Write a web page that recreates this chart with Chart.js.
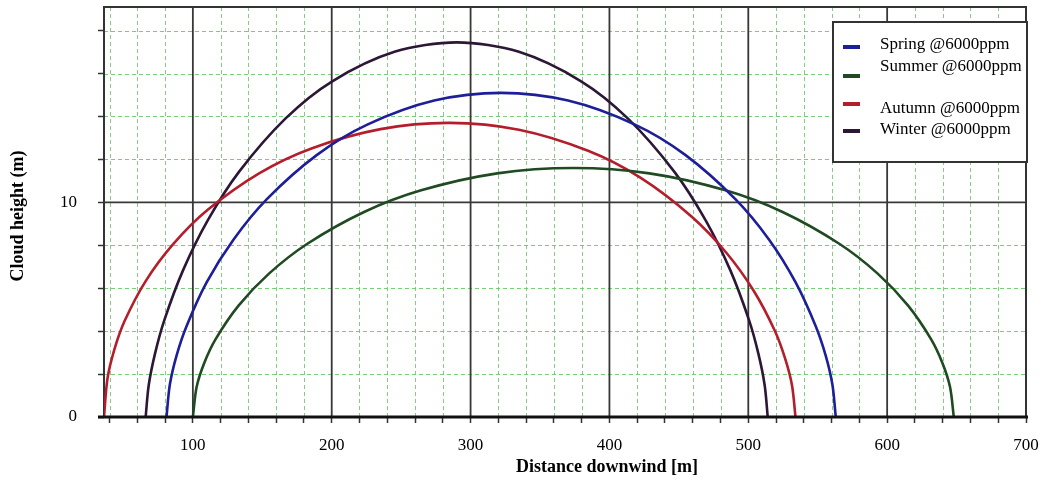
<!DOCTYPE html>
<html>
<head>
<meta charset="utf-8">
<script src="https://cdn.jsdelivr.net/npm/chart.js@4.4.1/dist/chart.umd.min.js"></script>
<style>
  html, body { margin: 0; padding: 0; background: #ffffff; }
  #wrap { width: 1052px; height: 481px; position: relative; }
</style>
</head>
<body>
<div id="wrap"><canvas id="c" width="1052" height="481"></canvas></div>
<script>
// ---- data ----
const seriesNames = ['Spring @6000ppm', 'Summer @6000ppm', 'Autumn @6000ppm', 'Winter @6000ppm'];

const springX = [81, 83.4, 88.2, 95.5, 109.9, 129.2, 153.3, 189.4, 225.6, 273.8, 322, 370.2, 418.4, 454.6, 490.7, 515, 534.1, 548.5, 555.8, 560.6, 563];
const springY = [0, 1.50, 2.85, 4.24, 6.27, 8.26, 10.15, 12.21, 13.62, 14.74, 15.1, 14.74, 13.62, 12.21, 10.15, 8.26, 6.27, 4.24, 2.85, 1.50, 0];

const summerX = [100, 102.7, 108.2, 116.4, 132.9, 154.8, 182.2, 223.3, 264.4, 319.2, 374, 428.8, 483.6, 524.7, 565.8, 593.2, 615.1, 631.6, 639.8, 645.3, 648];
const summerY = [0, 1.40, 2.52, 3.63, 5.19, 6.68, 8.06, 9.55, 10.56, 11.35, 11.6, 11.35, 10.56, 9.55, 8.06, 6.68, 5.19, 3.63, 2.52, 1.40, 0];

const autumnX = [36, 38.5, 43.5, 50.9, 65.9, 85.8, 110.7, 148, 185.4, 235.2, 285, 334.8, 384.6, 422, 459.3, 484.2, 504.1, 519.1, 526.5, 531.5, 534];
const autumnY = [0, 1.79, 3.15, 4.48, 6.32, 8.05, 9.65, 11.36, 12.51, 13.41, 13.7, 13.38, 12.40, 11.16, 9.33, 7.65, 5.86, 4.02, 2.73, 1.47, 0];

const winterX = [66, 68.2, 72.7, 79.4, 92.9, 110.8, 133.2, 166.8, 200.4, 245.2, 290, 334.8, 379.6, 413.2, 446.8, 469.2, 487.1, 500.6, 507.3, 511.8, 514];
const winterY = [0, 1.48, 2.94, 4.50, 6.83, 9.17, 11.42, 13.91, 15.64, 17.01, 17.45, 17.01, 15.64, 13.91, 11.42, 9.17, 6.83, 4.50, 2.94, 1.48, 0];

const xTickLabels = [100, 200, 300, 400, 500, 600, 700];
const yTickLabels = [0, 10];
const xTitle = 'Distance downwind [m]';
const yTitle = 'Cloud height (m)';

// ---- styles ----
const colors = ['#1e1e98', '#1f4a22', '#b41e2c', '#2c1836'];
const serif = '"Liberation Serif", "Times New Roman", serif';

function pts(xs, ys) { return xs.map((v, i) => ({ x: v, y: ys[i] })); }

const datasets = [
  { label: seriesNames[0], data: pts(springX, springY) },
  { label: seriesNames[1], data: pts(summerX, summerY) },
  { label: seriesNames[2], data: pts(autumnX, autumnY) },
  { label: seriesNames[3], data: pts(winterX, winterY) }
].map((d, i) => Object.assign(d, {
  borderColor: colors[i], backgroundColor: colors[i], borderWidth: 2.6,
  pointRadius: 0, tension: 0.3, fill: false
}));

const gridPlugin = {
  id: 'customGrid',
  beforeDatasetsDraw(chart) {
    const { ctx, chartArea: a, scales: { x, y } } = chart;
    ctx.save();
    ctx.setLineDash([4, 3]);
    ctx.lineWidth = 1;
    x.ticks.forEach(t => {
      if (t.value % 100 === 0) return;
      const px = Math.round(x.getPixelForValue(t.value)) + 0.5;
      ctx.strokeStyle = 'rgba(120,190,120,0.85)';
      ctx.beginPath(); ctx.moveTo(px, a.top); ctx.lineTo(px, a.bottom); ctx.stroke();
    });
    y.ticks.forEach(t => {
      if (t.value % 10 === 0) return;
      const py = Math.round(y.getPixelForValue(t.value)) + 0.5;
      ctx.strokeStyle = 'rgba(100,205,100,0.9)';
      ctx.beginPath(); ctx.moveTo(a.left, py); ctx.lineTo(a.right, py); ctx.stroke();
    });
    ctx.setLineDash([]);
    ctx.strokeStyle = '#383838';
    ctx.lineWidth = 1.8;
    x.ticks.forEach(t => {
      if (t.value % 100 !== 0) return;
      const px = x.getPixelForValue(t.value);
      ctx.beginPath(); ctx.moveTo(px, a.top); ctx.lineTo(px, a.bottom); ctx.stroke();
    });
    y.ticks.forEach(t => {
      if (t.value % 10 !== 0 || t.value === 0) return;
      const py = y.getPixelForValue(t.value);
      ctx.beginPath(); ctx.moveTo(a.left, py); ctx.lineTo(a.right, py); ctx.stroke();
    });
    ctx.strokeStyle = '#333333';
    ctx.lineWidth = 2;
    ctx.beginPath();
    ctx.moveTo(a.left, a.bottom); ctx.lineTo(a.left, a.top); ctx.lineTo(a.right, a.top); ctx.lineTo(a.right, a.bottom);
    ctx.stroke();
    ctx.restore();
  },
  afterDatasetsDraw(chart) {
    const { ctx, chartArea: a, scales: { y } } = chart;
    ctx.save();
    ctx.strokeStyle = '#111111';
    ctx.lineWidth = 3;
    const py = y.getPixelForValue(0);
    ctx.beginPath(); ctx.moveTo(a.left - 6, py); ctx.lineTo(a.right + 2, py); ctx.stroke();
    ctx.restore();
  }
};

const textPlugin = {
  id: 'texts',
  afterDraw(chart) {
    const { ctx } = chart;
    ctx.save();
    ctx.fillStyle = '#000';
    ctx.font = 'bold 18px ' + serif;
    ctx.textAlign = 'center';
    ctx.textBaseline = 'middle';
    ctx.fillText(xTitle, 607, 467);
    ctx.translate(18, 216);
    ctx.rotate(-Math.PI / 2);
    ctx.fillText(yTitle, 0, 0);
    ctx.restore();

    ctx.save();
    const bx = 833, by = 22, bw = 194, bh = 140;
    ctx.fillStyle = '#ffffff';
    ctx.fillRect(bx, by, bw, bh);
    ctx.strokeStyle = '#333333';
    ctx.lineWidth = 2;
    ctx.strokeRect(bx, by, bw, bh);
    const swY = [47, 76, 104, 131];
    const txY = [45, 67, 109, 130];
    ctx.font = '17px ' + serif;
    ctx.textAlign = 'left';
    ctx.textBaseline = 'middle';
    chart.data.datasets.forEach((d, i) => {
      ctx.fillStyle = d.borderColor;
      ctx.fillRect(843, swY[i] - 2, 17, 4);
      ctx.fillStyle = '#000';
      ctx.fillText(d.label, 880, txY[i]);
    });
    ctx.restore();
  }
};

new Chart(document.getElementById('c'), {
  type: 'line',
  data: { datasets },
  plugins: [gridPlugin, textPlugin],
  options: {
    responsive: false,
    animation: false,
    layout: { padding: { top: 7, right: 26, left: 0, bottom: 0 } },
    plugins: { legend: { display: false }, tooltip: { enabled: false } },
    scales: {
      x: {
        type: 'linear', min: 36, max: 700,
        afterFit(s) { s.height = 64; s.paddingLeft = 0; s.paddingRight = 0; s.paddingTop = 0; s.paddingBottom = 0; },
        afterBuildTicks(s) {
          const t = [];
          for (let v = 40; v <= 700; v += 20) t.push({ value: v });
          s.ticks = t;
        },
        grid: { drawOnChartArea: false, drawTicks: true, tickLength: 6, tickColor: '#333', tickWidth: 1.5 },
        border: { display: false },
        ticks: {
          autoSkip: false, maxRotation: 0, padding: 12, color: '#000',
          font: { family: serif, size: 17 },
          callback: v => xTickLabels.includes(v) ? String(v) : ''
        }
      },
      y: {
        type: 'linear', min: 0, max: 19.1,
        afterFit(s) { s.width = 104; s.paddingTop = 0; s.paddingBottom = 0; s.paddingLeft = 0; s.paddingRight = 0; },
        afterBuildTicks(s) {
          const t = [];
          for (let v = 0; v <= 18; v += 2) t.push({ value: v });
          s.ticks = t;
        },
        grid: { drawOnChartArea: false, drawTicks: true, tickLength: 6, tickColor: '#333', tickWidth: 1.5 },
        border: { display: false },
        ticks: {
          autoSkip: false, padding: 21, color: '#000',
          font: { family: serif, size: 17 },
          callback: v => yTickLabels.includes(v) ? String(v) : ''
        }
      }
    }
  }
});
</script>
</body>
</html>
